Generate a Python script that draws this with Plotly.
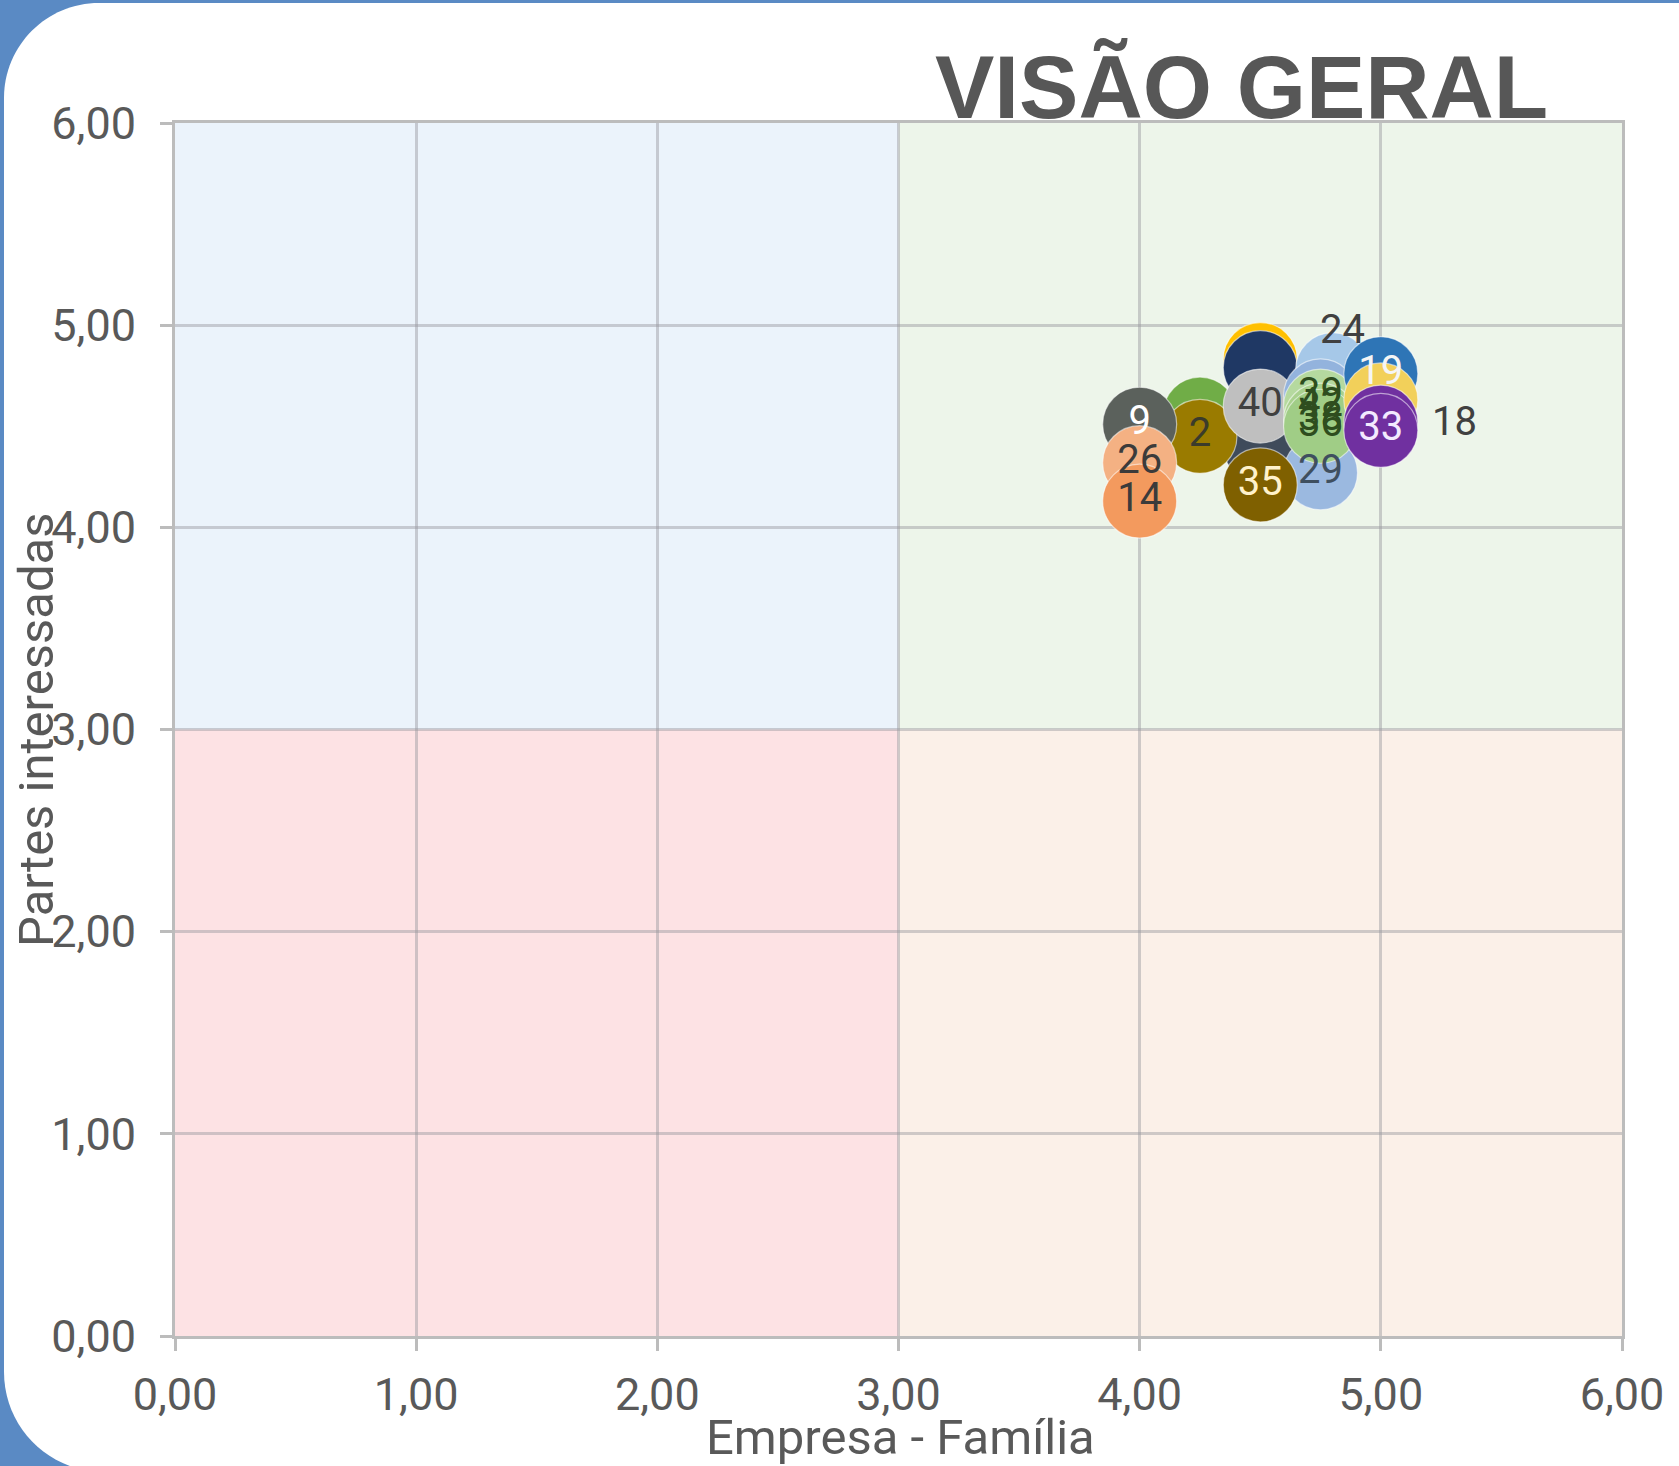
import plotly.graph_objects as go

# ---------------- data ----------------
labels = ["", "", "24", "", "", "2", "9", "26", "14", "40", "29",
          "39", "42", "38", "36", "19", "", "18", "33", "35"]
empresa_familia = [4.50, 4.50, 4.80, 4.50, 4.25, 4.25, 4.00, 4.00, 4.00, 4.50, 4.75,
                   4.75, 4.75, 4.75, 4.75, 5.00, 5.00, 5.00, 5.00, 4.50]
partes_interessadas = [4.83, 4.79, 4.78, 4.40, 4.56, 4.45, 4.51, 4.32, 4.13, 4.60, 4.27,
                       4.65, 4.60, 4.53, 4.50, 4.76, 4.63, 4.52, 4.48, 4.21]
bubble_colors = ["#ffc000", "#1f3864", "#a6c8e8", "#3f4b5b", "#70ad47", "#9a7b00",
                 "#5b615c", "#f4b183", "#f39a5e", "#bfbfbf", "#9bb9e0",
                 "#93b3dd", "#b5d99f", "#a9d18e", "#a0cd86", "#2e75b6",
                 "#f2d05a", "#7030a0", "#7030a0", "#7f6000"]
label_colors = ["#404040", "#404040", "#404040", "#404040", "#404040", "#3b3b2b",
                "#ffffff", "#3b3b3b", "#3b3b3b", "#404040", "#3f4f5f",
                "#2e4d1e", "#2e4d1e", "#2e4d1e", "#2e4d1e", "#f5f5f5",
                "#404040", "#404040", "#f3eaff", "#fff2cc"]
x_ticks = [0, 1, 2, 3, 4, 5, 6]
y_ticks = [0, 1, 2, 3, 4, 5, 6]
title_text = "VISÃO GERAL"
x_title = "Empresa - Família"
y_title = "Partes interessadas"

# ---------------- style ----------------
W, H = 1679, 1466
L, R, T, B = 175, 57, 123, 130
PW, PH = W - L - R, H - T - B
GRAY_TXT = "#595959"
GRID = "rgba(150,150,158,0.45)"
AXIS = "#bcbcbc"
BLUE_BG = "#5a8ac4"
LABEL_SIZE = 40
outside_labels = {"24": (10, 40), "18": (74, 1)}  # pixel shifts for labels placed beside bubbles


def xp(px):
    return (px - L) / PW


def yp(py):
    return 1 - (py - T) / PH


fig = go.Figure()

inner_text = [("" if t in outside_labels else t) for t in labels]
fig.add_trace(go.Scatter(
    x=empresa_familia, y=partes_interessadas, mode="markers+text",
    text=inner_text, textposition="middle center",
    textfont=dict(family="Roboto", size=LABEL_SIZE, color=label_colors),
    marker=dict(size=74, color=bubble_colors, opacity=1,
                line=dict(width=1.2, color="rgba(255,255,255,0.55)")),
    hoverinfo="skip", showlegend=False, cliponaxis=False,
))

annotations = []
for lab, xv, yv in zip(labels, empresa_familia, partes_interessadas):
    if lab in outside_labels:
        dx, dy = outside_labels[lab]
        annotations.append(dict(x=xv, y=yv, xref="x", yref="y", text=lab, showarrow=False,
                                xshift=dx, yshift=dy,
                                font=dict(family="Roboto", size=LABEL_SIZE, color="#404040")))

annotations += [
    dict(text=title_text, xref="paper", yref="paper", x=xp(1241), y=yp(87),
         xanchor="center", yanchor="middle", showarrow=False,
         font=dict(family="Liberation Sans, Arial", size=89, color="#575757", weight="bold")),
    dict(text=x_title, xref="paper", yref="paper", x=xp(900), y=yp(1437),
         xanchor="center", yanchor="middle", showarrow=False,
         font=dict(family="Roboto", size=49, color=GRAY_TXT)),
    dict(text=y_title, xref="paper", yref="paper", x=xp(37), y=yp(730),
         xanchor="center", yanchor="middle", showarrow=False, textangle=-90,
         font=dict(family="Roboto", size=49, color=GRAY_TXT)),
]

# card background (white rounded card on blue)
k = 0.5523
R1, R2 = 95, 100
cx0, cy0, cx1, cy1 = 4, 3, 1700, 1472
pts = [
    f"M {xp(cx0)},{yp(cy0 + R1)}",
    f"C {xp(cx0)},{yp(cy0 + R1 - k * R1)} {xp(cx0 + R1 - k * R1)},{yp(cy0)} {xp(cx0 + R1)},{yp(cy0)}",
    f"L {xp(cx1)},{yp(cy0)}",
    f"L {xp(cx1)},{yp(cy1)}",
    f"L {xp(cx0 + R2)},{yp(cy1)}",
    f"C {xp(cx0 + R2 - k * R2)},{yp(cy1)} {xp(cx0)},{yp(cy1 - R2 + k * R2)} {xp(cx0)},{yp(cy1 - R2)}",
    "Z",
]
shapes = [dict(type="path", path=" ".join(pts), xref="paper", yref="paper",
               fillcolor="white", line=dict(width=0), layer="below")]

quadrants = [((0, 3), (3, 6), "#ebf3fb"), ((3, 6), (3, 6), "#edf5ea"),
             ((0, 3), (0, 3), "#fde2e4"), ((3, 6), (0, 3), "#fbf0e8")]
for (qx0, qx1), (qy0, qy1), col in quadrants:
    shapes.append(dict(type="rect", xref="x", yref="y", x0=qx0, x1=qx1, y0=qy0, y1=qy1,
                       fillcolor=col, line=dict(width=0), layer="below"))

axis_common = dict(
    range=[0, 6], tickformat=".2f", showgrid=True, gridcolor=GRID, gridwidth=2.5,
    zeroline=False, showline=True, linecolor=AXIS, linewidth=3, mirror=True,
    ticks="outside", ticklen=12, tickwidth=2.5, tickcolor=AXIS,
    tickfont=dict(family="Roboto", size=45, color=GRAY_TXT), fixedrange=True,
)

fig.update_layout(
    width=W, height=H, margin=dict(l=L, r=R, t=T, b=B, autoexpand=False),
    paper_bgcolor=BLUE_BG, plot_bgcolor="white",
    separators=",.",
    xaxis=dict(tickvals=x_ticks, ticklabelstandoff=5, **axis_common),
    yaxis=dict(tickvals=y_ticks, ticklabelstandoff=15, **axis_common),
    shapes=shapes, annotations=annotations, showlegend=False,
)

fig.write_html("out.html", config={"displayModeBar": False},
               post_script="document.body.style.margin='0';document.body.style.overflow='hidden';")
